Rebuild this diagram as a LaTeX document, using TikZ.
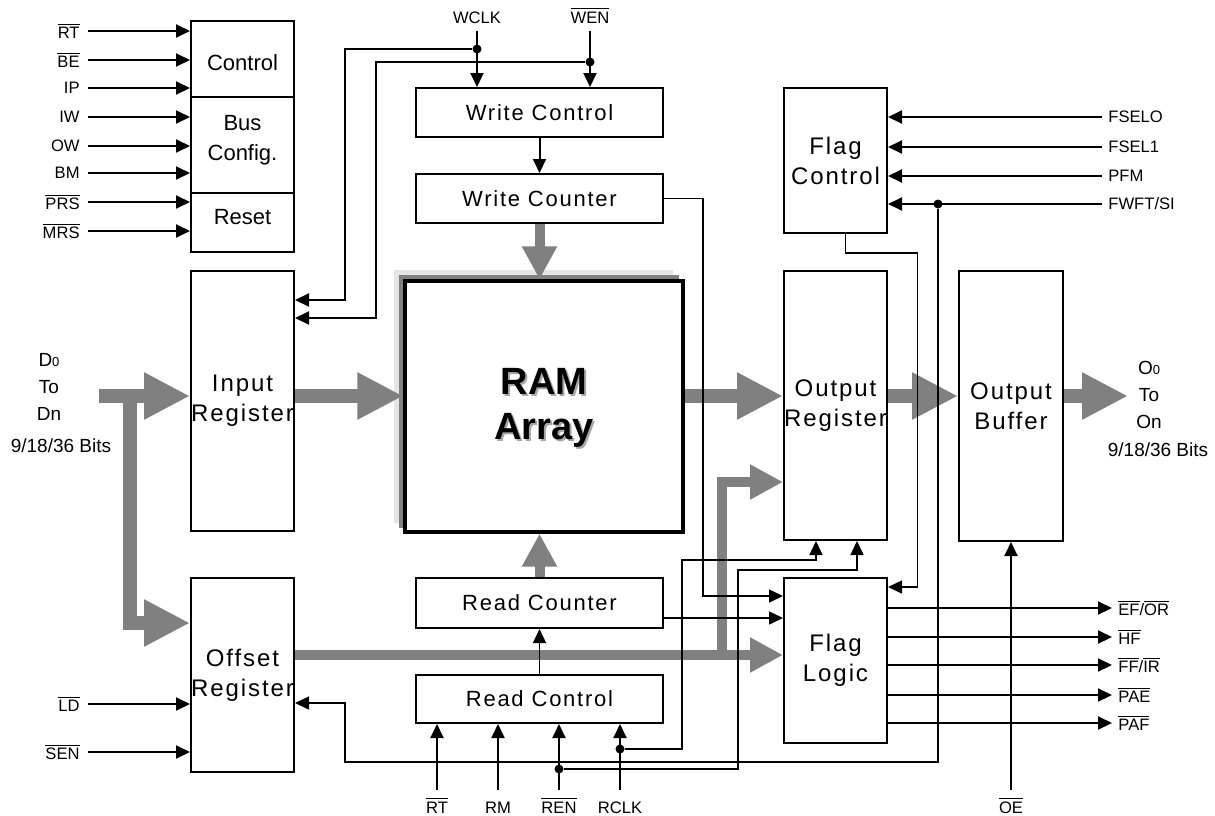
\documentclass[tikz,border=0pt]{standalone}
\usepackage{fontspec}
\setmainfont{Liberation Sans}
\newfontfamily\spfont[LetterSpace=8]{Liberation Sans}
\usetikzlibrary{arrows.meta}
\newcommand{\ovl}[1]{$\overline{\mbox{#1}}$}

\begin{document}
\begin{tikzpicture}[x=0.5pt, y=-0.5pt, line join=miter,
    >={Triangle[length=7pt,width=6.5pt]},
    blk/.style={draw, line width=1pt, fill=white, inner sep=0pt, align=center},
    vblk/.style={blk, minimum width=51.5pt, font=\spfont\fontsize{12}{15}\selectfont},
    hblk/.style={blk, minimum width=123.5pt, font=\spfont\fontsize{11}{13}\selectfont},
    pin/.style={inner sep=1pt, font=\fontsize{8.3}{10}\selectfont},
    wire/.style={line width=1pt, ->},
    fine/.style={line width=0.75pt, ->},
    bigbus/.style={gray, line width=7pt, -{Triangle[length=23pt,width=22pt]}},
    smallbus/.style={gray, line width=5pt, -{Triangle[length=16.5pt,width=16.5pt]}},
    dot/.style={fill, circle, inner sep=0pt, minimum size=4.5pt}]

    % 画布
    \fill[white] (0,0) rectangle (1215,815);
    \useasboundingbox (0,0) rectangle (1215,815);

    % 配置块
    \node[blk, minimum width=51.5pt, minimum height=115.5pt] (cfg) at (242.5,136.5) {};
    \draw[line width=0.6pt] ([yshift=-38.5pt]cfg.north west) -- ([yshift=-38.5pt]cfg.north east)
        ([yshift=-86.5pt]cfg.north west) -- ([yshift=-86.5pt]cfg.north east);
    \node[font=\fontsize{11}{15}\selectfont] (cfgc) at (242.5,63) {Control};
    \node[font=\fontsize{11}{15}\selectfont, align=center] (cfgb) at (242.5,140) {Bus\\Config.};
    \node[font=\fontsize{11}{15}\selectfont] (cfgr) at (242.5,217) {Reset};

    \foreach \y/\t [count=\i] in {31/{\ovl{RT}},60/{\ovl{BE}},88/IP,117/IW,146/OW,173/BM,202/{\ovl{PRS}},231/{\ovl{MRS}}}{
        \coordinate (c\i) at (88,\y);
        \node[pin, anchor=east] (lc\i) at (82,\y) {\t};
        \draw[wire] (c\i) -- (c\i -| cfg.west);
    }

    % 寄存器与存储阵列
    \node[vblk, minimum height=130pt] (ir) at (242.5,401) {Input\\Register};
    \node[vblk, minimum height=97pt] (ofs) at (242.5,675) {Offset\\Register};
    \node[hblk, minimum height=24.5pt] (wctl) at (539.5,112.5) {Write Control};
    \node[hblk, minimum height=24.5pt] (wcnt) at (539.5,198.5) {Write Counter};
    \node[hblk, minimum height=25pt] (rcnt) at (539.5,603) {Read Counter};
    \node[hblk, minimum height=24pt] (rctl) at (539.5,699) {Read Control};
    \node[vblk, minimum height=72.5pt] (fctl) at (835.5,160.5) {Flag\\Control};
    \node[vblk, minimum height=134.5pt] (oreg) at (835.5,405.5) {Output\\Register};
    \node[vblk, minimum width=52pt, minimum height=135pt] (obuf) at (1011,406) {Output\\Buffer};
    \node[vblk, minimum height=82.5pt] (flog) at (835.5,660.5) {Flag\\Logic};

    \fill[gray!20] (394,270) rectangle (673,523);
    \fill[gray] (399,275) rectangle (679,528);
    \node[blk, line width=1.6pt, minimum width=139pt, minimum height=125.5pt] (ram) at (544,406.5) {};
    \node[gray!70, font=\bfseries\fontsize{19}{22.5}\selectfont, align=center] (ramsh) at (546,410) {RAM\\Array};
    \node[font=\bfseries\fontsize{19}{22.5}\selectfont, align=center] (raml) at (544,408) {RAM\\Array};

    % 数据总线
    \coordinate (din) at (99,396);
    \coordinate (dbr) at (130,390);
    \coordinate (dout) at (1128,396);
    \node[font=\fontsize{9.5}{13.5}\selectfont, align=center] (dinl) at (49,387)
        {D{\fontsize{6.5}{7}\selectfont 0}\\To\\Dn};
    \node[font=\fontsize{9.5}{12}\selectfont] (dinb) at (61,446) {9/18/36 Bits};
    \node[font=\fontsize{9.5}{13.5}\selectfont, align=center] (doutl) at (1149,395)
        {O{\fontsize{6.5}{7}\selectfont 0}\\To\\On};
    \node[font=\fontsize{9.5}{12}\selectfont] (doutb) at (1158,450) {9/18/36 Bits};

    \draw[bigbus] (din) -- (din -| ir.west);
    \draw[bigbus] (dbr) |- ([yshift=-23pt]ofs.north west);
    \draw[bigbus] (ir.east |- din) -- (ram.west |- din);
    \draw[bigbus] (ram.east |- din) -- (oreg.west |- din);
    \draw[bigbus] (oreg.east |- din) -- (obuf.west |- din);
    \draw[bigbus] (obuf.east |- dout) -- (dout);
    \draw[smallbus] (wcnt.south) -- (wcnt.south |- ram.north);
    \draw[smallbus] (rcnt.north) -- (rcnt.north |- ram.south);
    \coordinate (obr) at (722,660);
    \draw[smallbus] ([yshift=-39pt]ofs.north east) -- ([yshift=-39pt]ofs.north east -| flog.west);
    \draw[smallbus] (obr) |- ([yshift=-106pt]oreg.north west);

    % 写入端
    \coordinate (wclk) at (477,31);
    \coordinate (wen) at (590,31);
    \node[pin, anchor=base] (lwclk) at (477,23) {WCLK};
    \node[pin, anchor=base] (lwen) at (590,23) {\ovl{WEN}};
    \draw[wire] (wclk) -- (wclk |- wctl.north);
    \draw[wire] (wen) -- (wen |- wctl.north);
    \node[dot] (wd1) at (477,49) {};
    \node[dot] (wd2) at (590,62) {};
    \draw[wire] (wd1) -- ++(-132,0) |- ([yshift=-15pt]ir.north east);
    \draw[wire] (wd2) -- ++(-214,0) |- ([yshift=-24pt]ir.north east);
    \draw[wire] (wctl.south) -- (wcnt.north);
    \draw[fine] (wcnt.east) -- ++(39,0) |- ([yshift=-9.5pt]flog.north west);

    % 读出端
    \foreach \x/\t/\n in {437/{\ovl{RT}}/rtb,498/RM/rm,559/{\ovl{REN}}/ren,620/RCLK/rclk}{
        \coordinate (\n) at (\x,790);
        \node[pin, anchor=base] (l\n) at (\x,813) {\t};
        \draw[wire] (\n) -- (\n |- rctl.south);
    }
    \draw[fine] (rctl.north) -- (rcnt.south);
    \draw[fine] ([yshift=-7.5pt]rcnt.east) -- ([yshift=-7.5pt]rcnt.east -| flog.west);
    \node[dot] (rd1) at (620,749) {};
    \node[dot] (rd2) at (559,769) {};
    \draw[fine] (rd1) -- ++(62,0) -- ++(0,-189) -| ([xshift=-9.75pt]oreg.south);
    \draw[fine] (rd2) -- ++(179,0) -- ++(0,-199) -| ([xshift=10.75pt]oreg.south);

    % 偏移寄存器输入
    \coordinate (ld) at (88,704);
    \coordinate (sen) at (88,752);
    \node[pin, anchor=east] (lld) at (82,704) {\ovl{LD}};
    \node[pin, anchor=east] (lsen) at (82,752) {\ovl{SEN}};
    \draw[wire] (ld) -- (ld -| ofs.west);
    \draw[wire] (sen) -- (sen -| ofs.west);

    % 标志控制
    \foreach \y/\t/\n in {117/FSELO/fs0,147/FSEL1/fs1,176/PFM/pfm,204/FWFT\slash SI/fwft}{
        \coordinate (\n) at (1102,\y);
        \node[pin, anchor=west] (l\n) at (1106,\y) {\t};
        \draw[wire] (\n) -- (\n -| fctl.east);
    }
    \node[dot] (fd) at (938,204) {};
    \draw[fine] (fd) -- ++(0,558) -- ++(-593,0) |- ([yshift=-63pt]ofs.north east);
    \draw[fine] ([xshift=5pt]fctl.south) -- ++(0,19) -- ++(72,0) |- ([yshift=-5pt]flog.north east);

    % 标志输出
    \foreach \y/\t/\n in {608/{\ovl{EF}\slash\ovl{OR}}/ef,637/{\ovl{HF}}/hf,665/{\ovl{FF}\slash\ovl{IR}}/ff,695/{\ovl{PAE}}/pae,723/{\ovl{PAF}}/paf}{
        \coordinate (\n) at (1112,\y);
        \node[pin, anchor=west] (l\n) at (1116,\y) {\t};
        \draw[wire] (flog.east |- \n) -- (\n);
    }

    % 输出使能
    \coordinate (oe) at (1011,790);
    \node[pin, anchor=base] (loe) at (1011,813) {\ovl{OE}};
    \draw[wire] (oe) -- (oe |- obuf.south);
\end{tikzpicture}
\end{document}
